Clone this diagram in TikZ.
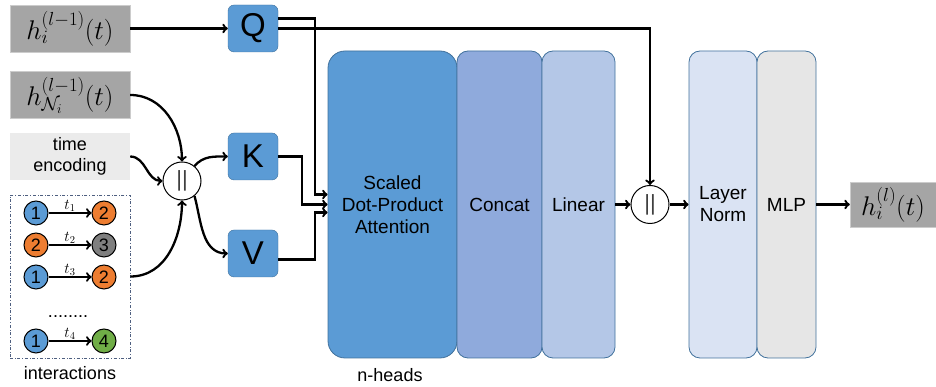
\RequirePackage{fix-cm}
\documentclass[tikz,border=0pt]{standalone}
\usepackage[no-math]{fontspec}
\setsansfont{Liberation Sans}
\definecolor{featgray}{HTML}{A5A5A5}
\definecolor{encgray}{HTML}{EBEBEB}
\definecolor{qkvblue}{HTML}{5B9BD5}
\definecolor{qkvline}{HTML}{41719C}
\definecolor{concatblue}{HTML}{8FAADC}
\definecolor{linearblue}{HTML}{B4C7E7}
\definecolor{normblue}{HTML}{DAE3F3}
\definecolor{mlpgray}{HTML}{E6E6E6}
\definecolor{vorange}{HTML}{ED7D31}
\definecolor{vgray}{HTML}{7F7F7F}
\definecolor{vgreen}{HTML}{70AD47}
\definecolor{boxline}{HTML}{4E5F80}
\begin{document}
\begin{tikzpicture}[x=1pt,y=1pt]
          \tikzstyle{feat}=[rectangle,draw=black!20,fill=featgray,minimum width=120pt,minimum height=47pt,inner sep=0pt,font=\fontsize{27}{30}\selectfont]
          \tikzstyle{txt}=[font=\sffamily\fontsize{18}{21}\selectfont,align=center]
          \tikzstyle{proj}=[rectangle,rounded corners=6pt,draw=qkvline,fill=qkvblue,minimum width=50pt,minimum height=47pt,font=\sffamily\fontsize{33}{36}\selectfont]
          \tikzstyle{block}=[rectangle,rounded corners=11pt,draw=qkvline,line width=0.8pt,minimum height=307pt,align=center,font=\sffamily\fontsize{19}{22}\selectfont]
          \tikzstyle{cat}=[circle,draw=black,line width=1pt,fill=white,minimum size=38pt,inner sep=0pt,text=black!75,font=\sffamily\fontsize{22}{22}\selectfont]
          \tikzstyle{vertex}=[circle,draw=black,line width=1pt,minimum size=24pt,inner sep=0pt,font=\sffamily\fontsize{18}{18}\selectfont]
          \tikzstyle{tlab}=[above,inner sep=0.5pt,font=\fontsize{15}{15}\selectfont]
          \tikzstyle{edge}=[draw,line width=2.3pt,->]
          \useasboundingbox (0,0) rectangle (936,387);
          \begin{scope}
             \node [feat] (hprev) at (70,358.5) {$h_i^{(l-1)}(t)$};
             \node [feat] (hnbr) at (70,292) {$h_{\mathcal{N}_i}^{(l-1)}(t)$};
             \node [feat,fill=encgray,draw=none,txt] (tenc) at (70,230.5) {time\\encoding};
             \node [draw=boxline,dash dot,line width=0.8pt,minimum width=120pt,minimum height=163pt] (inter) at (70,110.5) {};
             \node [txt] (intertxt) at (70,14) {interactions};
             \node [vertex,fill=qkvblue] (a1) at (36,174) {1};
             \node [vertex,fill=vorange] (b1) at (104,174) {2};
             \node [vertex,fill=vorange] (a2) at (36,142) {2};
             \node [vertex,fill=vgray] (b2) at (104,142) {3};
             \node [vertex,fill=qkvblue] (a3) at (36,110) {1};
             \node [vertex,fill=vorange] (b3) at (104,110) {2};
             \node [txt] (dots) at (68,70) {........};
             \node [vertex,fill=qkvblue] (a4) at (36,46) {1};
             \node [vertex,fill=vgreen] (b4) at (104,46) {4};
             \draw[edge] (a1) -- node[tlab] {$t_1$} (b1);
             \draw[edge] (a2) -- node[tlab] {$t_2$} (b2);
             \draw[edge] (a3) -- node[tlab] {$t_3$} (b3);
             \draw[edge] (a4) -- node[tlab] {$t_4$} (b4);
          \end{scope}
          \begin{scope}
             \node [proj] (q) at (253,358.5) {Q};
             \node [proj] (k) at (253,230.5) {K};
             \node [proj] (v) at (253,133.5) {V};
             \node [cat] (c1) at (182,206) {||};
             \draw[edge] (hprev) -- (q);
             \draw[edge] (hnbr.east) to[out=0,in=90] (c1.north);
             \draw[edge] (tenc.east) to[out=0,in=180] (c1.west);
             \draw[edge] (inter.east) to[out=0,in=-90] (c1.south);
             \draw[edge] (c1.50) to[out=50,in=180] (k.west);
             \draw[edge] (c1.-50) to[out=-75,in=180] (v.west);
          \end{scope}
          \begin{scope}
             \node [block,fill=qkvblue,minimum width=129pt,rounded corners=17pt] (att) at (392.5,182.5) {Scaled\\Dot-Product\\Attention};
             \node [block,fill=concatblue,minimum width=85pt] (cc) at (499.5,182.5) {Concat};
             \node [block,fill=linearblue,minimum width=73pt] (lin) at (578.5,182.5) {Linear};
             \node [txt] (heads) at (390,12) {n-heads};
             \node [cat] (c2) at (650,182.5) {||};
             \node [block,fill=normblue,minimum width=68pt] (ln) at (723,182.5) {Layer\\Norm};
             \node [block,fill=mlpgray,minimum width=59pt] (mlp) at (786.5,182.5) {MLP};
             \node [feat,minimum width=86pt,minimum height=45pt] (out) at (893,182.5) {$h_i^{(l)}(t)$};
             \draw[edge] ([yshift=10pt]q.east) -- ++(37,0) |- ([yshift=10pt]att.west);
             \draw[edge] (k.east) -- ++(24,0) |- (att.west);
             \draw[edge] ([yshift=-6pt]v.east) -- ++(37,0) |- ([yshift=-8pt]att.west);
             \draw[edge] (q.east) -| (c2.north);
             \draw[edge] (lin) -- (c2);
             \draw[edge] (c2) -- (ln);
             \draw[edge] (mlp) -- (out);
          \end{scope}
        \end{tikzpicture}
\end{document}
